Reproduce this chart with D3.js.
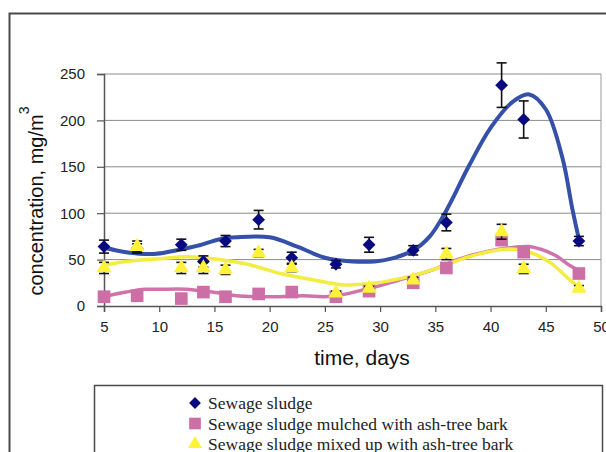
<!DOCTYPE html>
<html>
<head>
<meta charset="utf-8">
<script src="https://cdn.jsdelivr.net/npm/d3@7"></script>
<style>
  html, body { margin: 0; padding: 0; background: #fff; }
  svg { display: block; }
</style>
</head>
<body>
<svg id="chart" width="606" height="452"></svg>
<script>
// Sampling days
const days = [5, 8, 12, 14, 16, 19, 22, 26, 29, 33, 36, 41, 43, 48];

// Measured concentrations, mg/m3, with standard errors
const sludge      = [64, 62, 66, 48, 70, 93, 52, 45, 66, 60, 90, 238, 201, 70];
const sludgeErr   = [7, 5, 6, 6, 6, 10, 6, 4, 8, 5, 9, 24, 20, 5];
const mulched     = [10, 11, 8, 15, 10, 13, 15, 10, 16, 25, 41, 71, 58, 35];
const mulchedErr  = [2, 2, 3, 2, 2, 2, 2, 2, 2, 2, 3, 5, 5, 2];
const mixed       = [41, 64, 41, 41, 39, 57, 41, 14, 19, 28, 56, 80, 40, 19];
const mixedErr    = [6, 6, 6, 6, 5, 4, 4, 2, 2, 3, 6, 8, 5, 3];

// Smoothed trend curves
const sludgeTrendDays  = [5, 7, 9.5, 12, 13.5, 15.5, 17, 20, 22.5, 25, 27.5, 29.5, 31, 33, 34.5, 36, 38, 40, 42, 43.5, 45, 46.5, 47.4, 48];
const sludgeTrend      = [63, 58, 56, 61, 65, 72, 74, 74, 64, 52, 48, 48, 51, 60, 75, 103, 150, 192, 220, 228, 212, 160, 105, 72];
const mulchedTrendDays = [5, 7, 8.7, 10, 12.5, 14, 15.5, 17, 19, 21, 23, 25, 26.5, 28, 30, 32, 35, 37, 39.8, 42, 43.5, 45.8, 47, 48];
const mulchedTrend     = [10, 15, 18, 18, 18, 16, 14, 11, 10, 10, 11, 10, 12, 16, 22, 29, 40, 50, 59, 63, 64, 55, 45, 38];
const mixedTrendDays   = [5, 7, 10, 12.5, 14, 16, 18, 21, 24, 26.5, 29, 32, 35, 38, 41, 42.5, 44, 45.5, 47, 48];
const mixedTrend       = [44, 48, 51, 53, 52, 49, 45, 35, 28, 23, 24, 30, 40, 53, 61, 61, 56, 46, 30, 20];

// Axis ticks
const xTicks = [5, 10, 15, 20, 25, 30, 35, 40, 45, 50];
const yTicks = [0, 50, 100, 150, 200, 250];

const legendLabels = [
  "Sewage sludge",
  "Sewage sludge mulched with ash-tree bark",
  "Sewage sludge mixed up with ash-tree bark"
];

const svg = d3.select("#chart");

// Outer chart frame
svg.append("rect")
  .attr("x", 9.5).attr("y", 13.5)
  .attr("width", 640).attr("height", 480)
  .attr("fill", "none").attr("stroke", "#4a4a4a").attr("stroke-width", 2);

const x = d3.scaleLinear().domain([5, 50]).range([104, 601]);
const y = d3.scaleLinear().domain([0, 250]).range([306, 74]);

// Horizontal gridlines
svg.append("g").selectAll("line")
  .data(yTicks.filter(v => v > 0))
  .join("line")
  .attr("x1", x(5)).attr("x2", x(50))
  .attr("y1", d => y(d)).attr("y2", d => y(d))
  .attr("stroke", "#8a8a8a").attr("stroke-width", 1);

// Right edge of plot area
svg.append("line")
  .attr("x1", x(50)).attr("x2", x(50))
  .attr("y1", y(250)).attr("y2", y(0))
  .attr("stroke", "#9a9a9a").attr("stroke-width", 1);

// Axes
const yAxis = d3.axisLeft(y).tickValues(yTicks).tickSize(7).tickPadding(12);
const xAxis = d3.axisBottom(x).tickValues(xTicks).tickSize(6).tickPadding(9);

const gy = svg.append("g").attr("transform", `translate(${x(5)},0)`).call(yAxis);
const gx = svg.append("g").attr("transform", `translate(0,${y(0)})`).call(xAxis);

[gy, gx].forEach(g => {
  g.select(".domain").attr("stroke", "#555").attr("stroke-width", 1.5);
  g.selectAll(".tick line").attr("stroke", "#555").attr("stroke-width", 1.2);
  g.selectAll(".tick text")
    .attr("fill", "#222")
    .style("font-family", "'Liberation Sans', Arial, sans-serif")
    .style("font-size", "15px");
});

// Axis titles
svg.append("text")
  .attr("x", 362).attr("y", 365)
  .attr("text-anchor", "middle")
  .style("font-family", "'Liberation Sans', Arial, sans-serif")
  .style("font-size", "21px")
  .attr("fill", "#111")
  .text("time, days");

const yt = svg.append("text")
  .attr("transform", "translate(43,201) rotate(-90)")
  .attr("text-anchor", "middle")
  .style("font-family", "'Liberation Sans', Arial, sans-serif")
  .style("font-size", "20px")
  .attr("fill", "#111");
yt.append("tspan").text("concentration, mg/m");
yt.append("tspan").attr("dy", -14).style("font-size", "14px").text("3");

// Series definitions (the diamond is a square turned by 45 degrees)
const series = [
  { vals: sludge,  err: sludgeErr,  tDays: sludgeTrendDays,  tVals: sludgeTrend,
    line: "#3450a8", lineW: 4, fill: "#0a0a80", shape: d3.symbolSquare, size: 82, rotate: 45 },
  { vals: mulched, err: mulchedErr, tDays: mulchedTrendDays, tVals: mulchedTrend,
    line: "#cf74aa", lineW: 3.5, fill: "#cc6fa6", shape: d3.symbolSquare, size: 160, rotate: 0 },
  { vals: mixed,   err: mixedErr,   tDays: mixedTrendDays,   tVals: mixedTrend,
    line: "#f3ec42", lineW: 3.5, fill: "#fff23a", shape: d3.symbolTriangle, size: 100, rotate: 0 }
];

const trendLine = d3.line()
  .x(d => x(d[0])).y(d => y(d[1]))
  .curve(d3.curveCatmullRom.alpha(0.5));

// Trend curves
series.forEach(s => {
  svg.append("path")
    .datum(s.tDays.map((d, i) => [d, s.tVals[i]]))
    .attr("d", trendLine)
    .attr("fill", "none")
    .attr("stroke", s.line)
    .attr("stroke-width", s.lineW)
    .attr("stroke-linejoin", "round")
    .attr("stroke-linecap", "round");
});

// Error bars drawn beneath the markers of each series
series.forEach(s => {
  const pts = days.map((d, i) => ({ d, v: s.vals[i], e: s.err[i] }));
  const g = svg.append("g");

  const eb = g.selectAll("g.eb").data(pts).join("g").attr("class", "eb")
    .attr("stroke", "#111").attr("stroke-width", 1.6);
  eb.append("line")
    .attr("x1", p => x(p.d)).attr("x2", p => x(p.d))
    .attr("y1", p => y(p.v + p.e)).attr("y2", p => y(p.v - p.e));
  eb.append("line")
    .attr("x1", p => x(p.d) - 5).attr("x2", p => x(p.d) + 5)
    .attr("y1", p => y(p.v + p.e)).attr("y2", p => y(p.v + p.e));
  eb.append("line")
    .attr("x1", p => x(p.d) - 5).attr("x2", p => x(p.d) + 5)
    .attr("y1", p => y(p.v - p.e)).attr("y2", p => y(p.v - p.e));

  g.selectAll("path.m")
    .data(pts)
    .join("path")
    .attr("class", "m")
    .attr("transform", p => `translate(${x(p.d)},${y(p.v)}) rotate(${s.rotate})`)
    .attr("d", d3.symbol().type(s.shape).size(s.size))
    .attr("fill", s.fill);
});

// Legend
svg.append("rect")
  .attr("x", 94.5).attr("y", 385.5)
  .attr("width", 508).attr("height", 100)
  .attr("fill", "#fff").attr("stroke", "#4a4a4a").attr("stroke-width", 1.5);

const lg = svg.append("g");
series.forEach((s, i) => {
  const cy = 403 + i * 20.5;
  lg.append("path")
    .attr("transform", `translate(195,${cy}) rotate(${s.rotate})`)
    .attr("d", d3.symbol().type(s.shape).size(s.size * 0.85))
    .attr("fill", s.fill);
  lg.append("text")
    .attr("x", 208).attr("y", cy + 6)
    .style("font-family", "'Liberation Serif', 'Times New Roman', serif")
    .style("font-size", "17.5px")
    .attr("fill", "#222")
    .text(legendLabels[i]);
});
</script>
</body>
</html>
